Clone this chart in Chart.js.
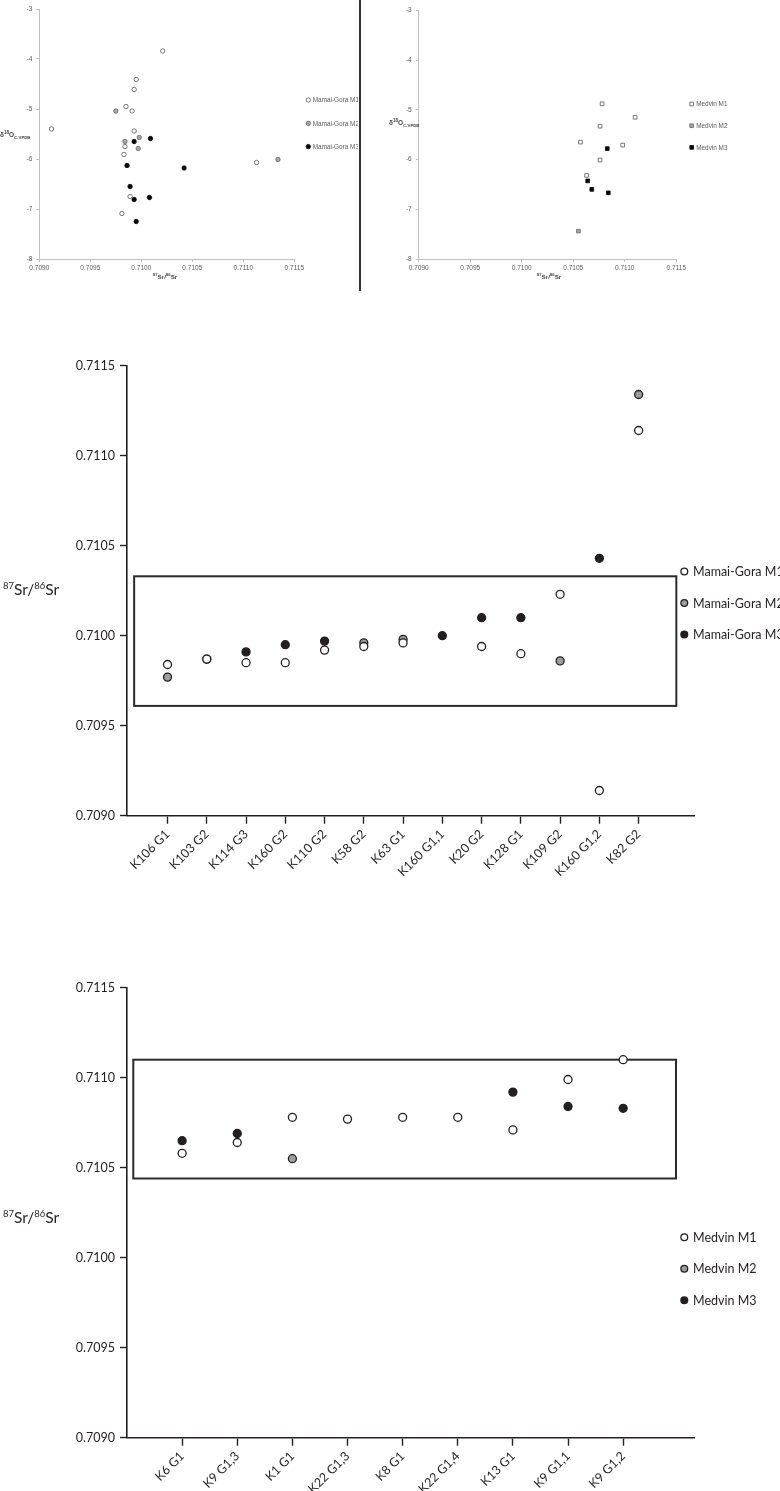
<!DOCTYPE html>
<html>
<head>
<meta charset="utf-8">
<script src="https://cdn.jsdelivr.net/npm/chart.js@4.4.1/dist/chart.umd.min.js"></script>
<style>
  body { margin: 0; background: #fff; width: 780px; height: 1491px; position: relative; overflow: hidden; }
  canvas { position: absolute; }
  #divider { position: absolute; left: 359px; top: 0; width: 1.5px; height: 291px; background: #333; }
</style>
</head>
<body>
<canvas id="mgScatter" width="358" height="300" style="left:0;top:0"></canvas>
<div id="divider"></div>
<canvas id="mdScatter" width="418" height="300" style="left:362px;top:0"></canvas>
<canvas id="mgStrip" width="780" height="580" style="left:0;top:320px"></canvas>
<canvas id="mdStrip" width="780" height="531" style="left:0;top:960px"></canvas>

<script>
// ---- Mamai-Gora: 87Sr/86Sr vs d18O (top left)
const mgM1Sr = [0.71021, 0.70995, 0.70993, 0.70985, 0.70991, 0.70912, 0.70993, 0.70984, 0.70983, 0.71113, 0.70989, 0.70981];
const mgM1O  = [-3.84, -4.41, -4.61, -4.95, -5.04, -5.40, -5.44, -5.75, -5.91, -6.07, -6.75, -7.09];
const mgM2Sr = [0.70975, 0.70984, 0.70998, 0.70997, 0.71134];
const mgM2O  = [-5.04, -5.65, -5.57, -5.79, -6.01];
const mgM3Sr = [0.70993, 0.71009, 0.70986, 0.71042, 0.70989, 0.70993, 0.71008, 0.70995];
const mgM3O  = [-5.65, -5.59, -6.13, -6.18, -6.55, -6.81, -6.77, -7.25];

// ---- Medvin: 87Sr/86Sr vs d18O (top right)
const mdM1Sr = [0.71078, 0.71110, 0.71076, 0.71057, 0.71098, 0.71076, 0.71063];
const mdM1O  = [-4.88, -5.15, -5.33, -5.65, -5.71, -6.01, -6.32];
const mdM2Sr = [0.71055];
const mdM2O  = [-7.44];
const mdM3Sr = [0.71083, 0.71064, 0.71068, 0.71084];
const mdM3O  = [-5.78, -6.43, -6.60, -6.67];

// ---- Mamai-Gora by sample (middle)
const mgSamples = ['K106 G1', 'K103 G2', 'K114 G3', 'K160 G2', 'K110 G2', 'K58 G2', 'K63 G1', 'K160 G1,1', 'K20 G2', 'K128 G1', 'K109 G2', 'K160 G1,2', 'K82 G2'];
const mgM1 = [0.70984, 0.70987, 0.70985, 0.70985, 0.70992, 0.70994, 0.70996, null, 0.70994, 0.70990, 0.71023, 0.70914, 0.71114];
const mgM2 = [0.70977, null, null, null, null, 0.70996, 0.70998, null, null, null, 0.70986, null, 0.71134];
const mgM3 = [null, 0.70987, 0.70991, 0.70995, 0.70997, null, null, 0.71000, 0.71010, 0.71010, null, 0.71043, null];
const mgRangeX = [-0.85, 12.96];
const mgRangeY = [0.70961, 0.71033];

// ---- Medvin by sample (bottom)
const mdSamples = ['K6 G1', 'K9 G1,3', 'K1 G1', 'K22 G1,3', 'K8 G1', 'K22 G1,4', 'K13 G1', 'K9 G1,1', 'K9 G1,2'];
const mdM1 = [0.71058, 0.71064, 0.71078, 0.71077, 0.71078, 0.71078, 0.71071, 0.71099, 0.71110];
const mdM2 = [null, null, 0.71055, null, null, null, null, null, null];
const mdM3 = [0.71065, 0.71069, null, null, null, null, 0.71092, 0.71084, 0.71083];
const mdRangeX = [-0.886, 8.958];
const mdRangeY = [0.71044, 0.71110];

const srTitle = (big, small) => [['87', small, -0.42], ['Sr/', big, 0], ['86', small, -0.42], ['Sr', big, 0]];
const oTitle = [['δ', 6.5, 0], ['18', 4.5, -0.4], ['O', 6.5, 0], ['C-VPDB', 4.3, 0.25]];

function pts(xs, ys) { return xs.map((x, i) => ({ x: x, y: ys[i] })); }
function byIndex(vals) { return vals.map((v, i) => v == null ? null : { x: i, y: v }).filter(p => p); }

// draws text made of pieces with their own size and baseline shift (sup/sub)
function drawRich(ctx, it) {
  const font = (s) => `${it.weight || 'normal'} ${s}px ${it.family}`;
  let w = 0;
  it.parts.forEach(p => { ctx.font = font(p[1]); w += ctx.measureText(p[0]).width; });
  let x = it.align === 'center' ? it.x - w / 2 : it.x;
  ctx.save();
  ctx.fillStyle = it.color;
  ctx.textBaseline = 'alphabetic';
  it.parts.forEach(p => {
    ctx.font = font(p[1]);
    ctx.fillText(p[0], x, it.y + p[2] * it.base);
    x += ctx.measureText(p[0]).width;
  });
  ctx.restore();
}

const richTitles = {
  id: 'richTitles',
  afterDraw(chart, args, o) {
    (o.items || []).forEach(it => drawRich(chart.ctx, it));
  }
};

const rangeBox = {
  id: 'rangeBox',
  beforeDatasetsDraw(chart, args, o) {
    if (!o.x) return;
    const { ctx, scales } = chart;
    const l = scales.x.getPixelForValue(o.x[0]), r = scales.x.getPixelForValue(o.x[1]);
    const t = scales.y.getPixelForValue(o.y[1]), b = scales.y.getPixelForValue(o.y[0]);
    ctx.save();
    ctx.strokeStyle = o.color;
    ctx.lineWidth = o.width;
    ctx.strokeRect(l, t, r - l, b - t);
    ctx.restore();
  }
};

const sideLegend = {
  id: 'sideLegend',
  afterDraw(chart, args, o) {
    const ctx = chart.ctx;
    chart.data.datasets.forEach((ds, i) => {
      const x = o.x, y = o.y + i * o.gap;
      ctx.save();
      ctx.fillStyle = ds.backgroundColor;
      ctx.strokeStyle = ds.borderColor;
      ctx.lineWidth = ds.borderWidth;
      ctx.beginPath();
      if (ds.pointStyle === 'rect') {
        const s = o.r * Math.SQRT1_2;
        ctx.rect(x - s, y - s, 2 * s, 2 * s);
      } else {
        ctx.arc(x, y, o.r, 0, Math.PI * 2);
      }
      ctx.fill();
      ctx.stroke();
      ctx.font = o.font;
      ctx.fillStyle = o.color;
      ctx.textBaseline = 'middle';
      ctx.fillText(ds.label, x + o.dx, y + 0.5);
      ctx.restore();
    });
  }
};

const excelFont = '"Liberation Sans", Arial, sans-serif';
const paperFont = 'Lato, "Open Sans", sans-serif';
const ink = '#231f20';

function topOptions(pad, yWidth, legend, titles) {
  const tickFont = { family: excelFont, size: 6.5 };
  const axis = (extra) => Object.assign({
    grid: { drawOnChartArea: false, tickLength: 3, tickColor: '#bfbfbf' },
    border: { color: '#bfbfbf', width: 1 }
  }, extra);
  return {
    responsive: false,
    animation: false,
    devicePixelRatio: 1,
    layout: { padding: pad },
    plugins: { legend: { display: false }, tooltip: { enabled: false }, sideLegend: legend, richTitles: { items: titles } },
    scales: {
      x: axis({ min: 0.709, max: 0.7115, afterFit: s => { s.height = 41; },
        ticks: { stepSize: 0.0005, callback: v => v.toFixed(4), font: tickFont, color: '#595959', padding: 2, maxRotation: 0 } }),
      y: axis({ min: -8, max: -3, afterFit: s => { s.width = yWidth; },
        ticks: { stepSize: 1, font: tickFont, color: '#595959', padding: 4 } })
    }
  };
}

function topSet(label, data, style, bg, border) {
  return { label: label, data: data, pointStyle: style, pointRadius: style === 'rect' ? 2.6 : 2.2,
    backgroundColor: bg, borderColor: border, borderWidth: 0.8 };
}

new Chart(document.getElementById('mgScatter'), {
  type: 'scatter',
  data: { datasets: [
    topSet('Mamai-Gora M1', pts(mgM1Sr, mgM1O), 'circle', '#ffffff', '#555555'),
    topSet('Mamai-Gora M2', pts(mgM2Sr, mgM2O), 'circle', '#a6a6a6', '#666666'),
    topSet('Mamai-Gora M3', pts(mgM3Sr, mgM3O), 'circle', '#000000', '#000000')
  ] },
  options: topOptions({ top: 9, right: 63.7, left: 0, bottom: 0 }, 39.3,
    { x: 308.3, y: 100, gap: 23.3, r: 2.2, dx: 4.5, font: `6.4px ${excelFont}`, color: '#595959' },
    [
      { x: 0, y: 137, align: 'left', weight: 'bold', family: excelFont, color: '#404040', base: 6.5, parts: oTitle },
      { x: 165, y: 279, align: 'center', weight: 'bold', family: excelFont, color: '#404040', base: 6.2, parts: srTitle(6.2, 4.3) }
    ]),
  plugins: [sideLegend, richTitles]
});

new Chart(document.getElementById('mdScatter'), {
  type: 'scatter',
  data: { datasets: [
    topSet('Medvin M1', pts(mdM1Sr, mdM1O), 'rect', '#ffffff', '#555555'),
    topSet('Medvin M2', pts(mdM2Sr, mdM2O), 'rect', '#a6a6a6', '#666666'),
    topSet('Medvin M3', pts(mdM3Sr, mdM3O), 'rect', '#000000', '#000000')
  ] },
  options: topOptions({ top: 10.3, right: 103.7, left: 0, bottom: 0 }, 56.7,
    { x: 329.7, y: 104, gap: 21.7, r: 2.6, dx: 4.5, font: `6.4px ${excelFont}`, color: '#595959' },
    [
      { x: 27, y: 125, align: 'left', weight: 'bold', family: excelFont, color: '#404040', base: 6.5, parts: oTitle },
      { x: 187, y: 279, align: 'center', weight: 'bold', family: excelFont, color: '#404040', base: 6.2, parts: srTitle(6.2, 4.3) }
    ]),
  plugins: [sideLegend, richTitles]
});

function stripSet(label, vals, bg) {
  return { label: label, data: byIndex(vals), pointStyle: 'circle', pointRadius: 4,
    backgroundColor: bg, borderColor: ink, borderWidth: 1.3 };
}

function stripOptions(cats, xMin, xMax, padTop, xHeight, legend, box, titleY) {
  return {
    responsive: false,
    animation: false,
    devicePixelRatio: 1,
    layout: { padding: { top: padTop, right: 86, left: 0, bottom: 0 } },
    plugins: {
      legend: { display: false }, tooltip: { enabled: false },
      sideLegend: legend,
      rangeBox: box,
      richTitles: { items: [{ x: 3, y: titleY, align: 'left', family: paperFont, color: ink, base: 15, parts: srTitle(15.5, 9.5) }] }
    },
    scales: {
      x: {
        min: xMin, max: xMax,
        afterBuildTicks: s => { s.ticks = cats.map((c, i) => ({ value: i })); },
        afterFit: s => { s.height = xHeight; },
        ticks: { autoSkip: false, minRotation: 45, maxRotation: 45, callback: v => cats[v],
          font: { family: paperFont, size: 12.5 }, color: ink, padding: 3 },
        grid: { drawOnChartArea: false, tickLength: 8, tickColor: ink, tickWidth: 1.4 },
        border: { color: ink, width: 1.6 }
      },
      y: {
        min: 0.709, max: 0.7115,
        afterFit: s => { s.width = 127; },
        ticks: { stepSize: 0.0005, callback: v => v.toFixed(4), font: { family: paperFont, size: 12.5 }, color: ink, padding: 5 },
        grid: { drawOnChartArea: false, tickLength: 7, tickColor: ink, tickWidth: 1.4 },
        border: { color: ink, width: 1.6 }
      }
    }
  };
}

new Chart(document.getElementById('mgStrip'), {
  type: 'scatter',
  data: { datasets: [
    stripSet('Mamai-Gora M1', mgM1, '#ffffff'),
    stripSet('Mamai-Gora M2', mgM2, '#9d9d9d'),
    stripSet('Mamai-Gora M3', mgM3, '#231f20')
  ] },
  options: stripOptions(mgSamples, -1.032, 13.41, 45.7, 84.3,
    { x: 684.3, y: 251.5, gap: 31.5, r: 3.4, dx: 8.7, font: `12.5px ${paperFont}`, color: ink },
    { x: mgRangeX, y: mgRangeY, color: '#2b2b2b', width: 2 }, 275),
  plugins: [rangeBox, sideLegend, richTitles]
});

new Chart(document.getElementById('mdStrip'), {
  type: 'scatter',
  data: { datasets: [
    stripSet('Medvin M1', mdM1, '#ffffff'),
    stripSet('Medvin M2', mdM2, '#9d9d9d'),
    stripSet('Medvin M3', mdM3, '#231f20')
  ] },
  options: stripOptions(mdSamples, -1, 9.285, 27.7, 53.3,
    { x: 684.3, y: 277.3, gap: 31.5, r: 3.4, dx: 8.7, font: `12.5px ${paperFont}`, color: ink },
    { x: mdRangeX, y: mdRangeY, color: '#2b2b2b', width: 2 }, 263),
  plugins: [rangeBox, sideLegend, richTitles]
});
</script>
</body>
</html>
